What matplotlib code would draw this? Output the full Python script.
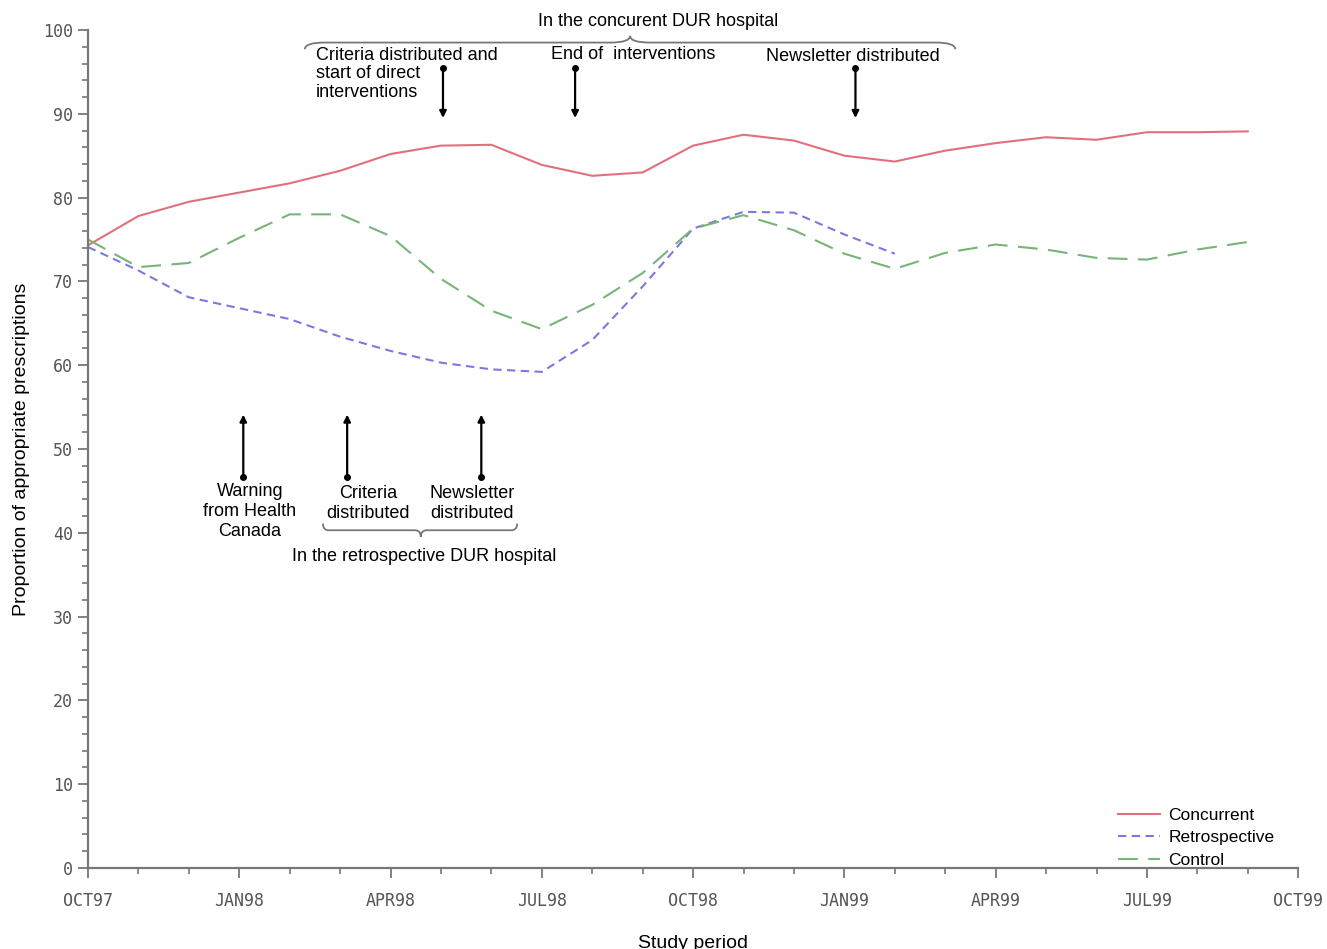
# proportion of appropriate prescriptions, Oct 97 - Oct 99
import matplotlib
matplotlib.use('Agg')
import matplotlib.pyplot as plt
from matplotlib.path import Path
from matplotlib.patches import PathPatch
from matplotlib.ticker import MultipleLocator

# months since OCT97
months = list(range(24))
concurrent = [74.3, 77.8, 79.5, 80.6, 81.7, 83.2, 85.2, 86.2, 86.3, 83.9, 82.6, 83.0,
              86.2, 87.5, 86.8, 85.0, 84.3, 85.6, 86.5, 87.2, 86.9, 87.8, 87.8, 87.9]
retrospective = [74.1, 71.3, 68.1, 66.8, 65.5, 63.4, 61.7, 60.3, 59.5, 59.2, 63.0, 69.4,
                 76.3, 78.3, 78.2, 75.6, 73.3]
control = [75.0, 71.7, 72.2, 75.2, 78.0, 78.0, 75.4, 70.3, 66.5, 64.3, 67.2, 71.0,
           76.3, 77.9, 76.1, 73.3, 71.5, 73.4, 74.4, 73.8, 72.8, 72.6, 73.8, 74.7]
tick_labels = ['OCT97', 'JAN98', 'APR98', 'JUL98', 'OCT98', 'JAN99', 'APR99', 'JUL99', 'OCT99']

txt = dict(family='Liberation Sans', fontsize=13, color='black')


def brace(ax, x0, x1, xm, y, h):
    # curly brace; h > 0 -> middle kink points up
    d = (x1 - x0) * 0.03
    verts = [(x0, y - h), (x0, y), (x0 + d, y),
             (xm - d, y), (xm, y), (xm, y + h),
             (xm, y), (xm + d, y),
             (x1 - d, y), (x1, y), (x1, y - h)]
    codes = [Path.MOVETO, Path.CURVE3, Path.CURVE3,
             Path.LINETO, Path.CURVE3, Path.CURVE3,
             Path.CURVE3, Path.CURVE3,
             Path.LINETO, Path.CURVE3, Path.CURVE3]
    ax.add_patch(PathPatch(Path(verts, codes), fill=False, color='#777777', lw=1.3, clip_on=False))


def event(ax, x, y_from, y_to):
    ax.annotate('', xy=(x, y_to), xytext=(x, y_from),
                arrowprops=dict(arrowstyle='-|>', color='black', lw=1.6, mutation_scale=10,
                                shrinkA=0, shrinkB=0), annotation_clip=False)
    ax.plot([x], [y_from], 'o', color='black', ms=4, clip_on=False)


fig = plt.figure(figsize=(13.27, 9.49), dpi=100)
ax = fig.add_axes([0.0663, 0.0854, 0.912, 0.883])

ax.plot(months, concurrent, color='#e0707c', lw=1.5, label='Concurrent')
ax.plot(months[:len(retrospective)], retrospective, color='#7b78e6', lw=1.5,
        dashes=(4, 2.6), label='Retrospective')
ax.plot(months, control, color='#78b478', lw=1.5, dashes=(9.5, 5), label='Control')

ax.set_xlim(0, 24)
ax.set_ylim(0, 100)
ax.xaxis.set_major_locator(MultipleLocator(3))
ax.xaxis.set_minor_locator(MultipleLocator(1))
ax.yaxis.set_major_locator(MultipleLocator(10))
ax.yaxis.set_minor_locator(MultipleLocator(2))
ax.set_xticks(range(0, 25, 3))
ax.set_xticklabels(tick_labels)
for s in ['top', 'right']:
    ax.spines[s].set_visible(False)
for s in ['left', 'bottom']:
    ax.spines[s].set_color('#777777')
    ax.spines[s].set_linewidth(1.6)
ax.tick_params(which='major', length=7, width=1.3, color='#777777', labelcolor='#555555', pad=10)
ax.tick_params(which='minor', length=4, width=1.2, color='#777777')
for lab in ax.get_xticklabels() + ax.get_yticklabels():
    lab.set_family('DejaVu Sans Mono')
    lab.set_fontsize(12)
ax.tick_params(axis='y', pad=4)

ax.set_xlabel('Study period', family='Liberation Sans', fontsize=14, labelpad=18)
ax.set_ylabel('Proportion of appropriate prescriptions', family='Liberation Sans', fontsize=14, labelpad=9)

# concurrent DUR hospital events
ax.text(11.3, 101.0, 'In the concurent DUR hospital', ha='center', va='center', **txt)
brace(ax, 4.3, 17.2, 10.75, 98.5, 0.8)
ax.text(4.52, 98.0, 'Criteria distributed and\nstart of direct\ninterventions', ha='left', va='top',
        linespacing=1.12, **txt)
ax.text(9.19, 98.1, 'End of  interventions', ha='left', va='top', **txt)
ax.text(13.45, 97.9, 'Newsletter distributed', ha='left', va='top', **txt)
event(ax, 7.04, 95.5, 89.5)
event(ax, 9.66, 95.5, 89.5)
event(ax, 15.22, 95.5, 89.5)

# retrospective DUR hospital events
ax.text(3.21, 45.9, 'Warning\nfrom Health\nCanada', ha='center', va='top', linespacing=1.22, **txt)
ax.text(5.56, 45.7, 'Criteria\ndistributed', ha='center', va='top', linespacing=1.22, **txt)
ax.text(7.62, 45.7, 'Newsletter\ndistributed', ha='center', va='top', linespacing=1.22, **txt)
brace(ax, 4.66, 8.51, 6.6, 40.3, -0.8)
ax.text(6.67, 37.2, 'In the retrospective DUR hospital', ha='center', va='center', **txt)
event(ax, 3.08, 46.7, 54.1)
event(ax, 5.14, 46.7, 54.1)
event(ax, 7.8, 46.7, 54.1)

ax.legend(loc='lower right', bbox_to_anchor=(0.986, -0.008), frameon=False,
          prop=dict(family='Liberation Sans', size=12.5), handlelength=2.4,
          handletextpad=0.5, labelspacing=0.42, borderaxespad=0)

fig.savefig('out.png', dpi=100)
